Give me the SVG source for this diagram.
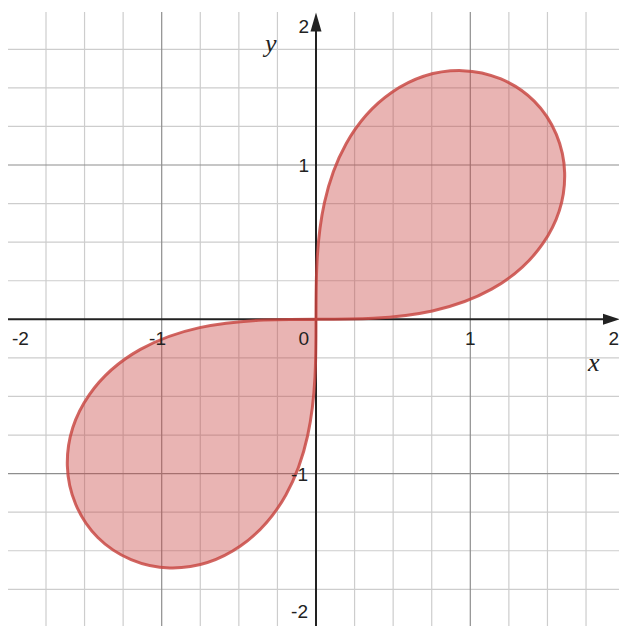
<svg xmlns="http://www.w3.org/2000/svg" xmlns:xlink="http://www.w3.org/1999/xlink" width="619" height="626" viewBox="0 0 619 626">
<style>
.minor{stroke:#cdcdcd;stroke-width:1.2;fill:none}
.major{stroke:#8e8e8e;stroke-width:1.2;fill:none}
.axis{stroke:#222;stroke-width:2;fill:none}
.arrow{fill:#222}
.num{font-family:"Liberation Sans",Arial,sans-serif;font-size:19px;fill:#222}
.var{font-family:"Liberation Serif","Times New Roman",serif;font-style:italic;font-size:26px;fill:#222}
.lobe{fill:#c74440;fill-opacity:0.4;stroke:#c74440;stroke-opacity:0.82;stroke-width:3;stroke-linejoin:round}
</style>
<defs>
<path id="lobe" d="M316,319.3 C335.04,319.30 354.10,319.31 373.44,318.30 C392.78,317.29 412.45,315.29 432.34,310.95 C452.23,306.61 472.41,299.90 491.60,289.17 C510.79,278.44 529.06,263.51 542.77,243.71 C556.48,223.91 565.34,198.95 564.67,172.89 C564.00,146.83 553.25,120.13 534.21,101.09 C515.17,82.05 488.47,71.30 462.41,70.63 C436.35,69.96 411.39,78.82 391.59,92.53 C371.79,106.24 356.86,124.51 346.13,143.70 C335.40,162.89 328.69,183.07 324.35,202.96 C320.01,222.85 318.00,242.52 317.00,261.86 C315.99,281.20 316,300.26 316,319.3 Z"/>
</defs>
<rect width="619" height="626" fill="#ffffff"/>
<g id="grid">
<path class="minor" d="M46,12V626 M84.55,12V626 M123.13,12V626 M200.28,12V626 M238.85,12V626 M277.43,12V626 M354.58,12V626 M393.15,12V626 M431.73,12V626 M508.88,12V626 M547.45,12V626 M586.03,12V626
M8,49.28H619 M8,87.85H619 M8,126.43H619 M8,203.58H619 M8,242.15H619 M8,280.73H619 M8,357.88H619 M8,396.45H619 M8,435.03H619 M8,512.18H619 M8,550.75H619 M8,589.33H619"/>
<path class="major" d="M161.7,12V626 M470.3,12V626 M8,165H619 M8,473.6H619"/>
</g>
<g id="axes">
<path class="axis" d="M8,319.3H606 M316,626V28"/>
<polygon class="arrow" points="620,319.3 603,313.8 603,324.8"/>
<polygon class="arrow" points="316,12.5 310.5,31.5 321.5,31.5"/>
</g>
<g id="curve">
<use xlink:href="#lobe" href="#lobe" class="lobe"/>
<use xlink:href="#lobe" href="#lobe" class="lobe" transform="rotate(180 316 319.3)"/>
</g>
<g id="labels">
<text class="num" x="12" y="345">-2</text>
<text class="num" x="166" y="345" text-anchor="end">-1</text>
<text class="num" x="309" y="345" text-anchor="end">0</text>
<text class="num" x="470.3" y="345" text-anchor="middle">1</text>
<text class="num" x="619" y="345" text-anchor="end">2</text>
<text class="num" x="309" y="33" text-anchor="end">2</text>
<text class="num" x="309" y="172" text-anchor="end">1</text>
<text class="num" x="308" y="481" text-anchor="end">-1</text>
<text class="num" x="308" y="618" text-anchor="end">-2</text>
<text class="var" x="265" y="52">y</text>
<text class="var" x="588" y="371">x</text>
</g>
</svg>
